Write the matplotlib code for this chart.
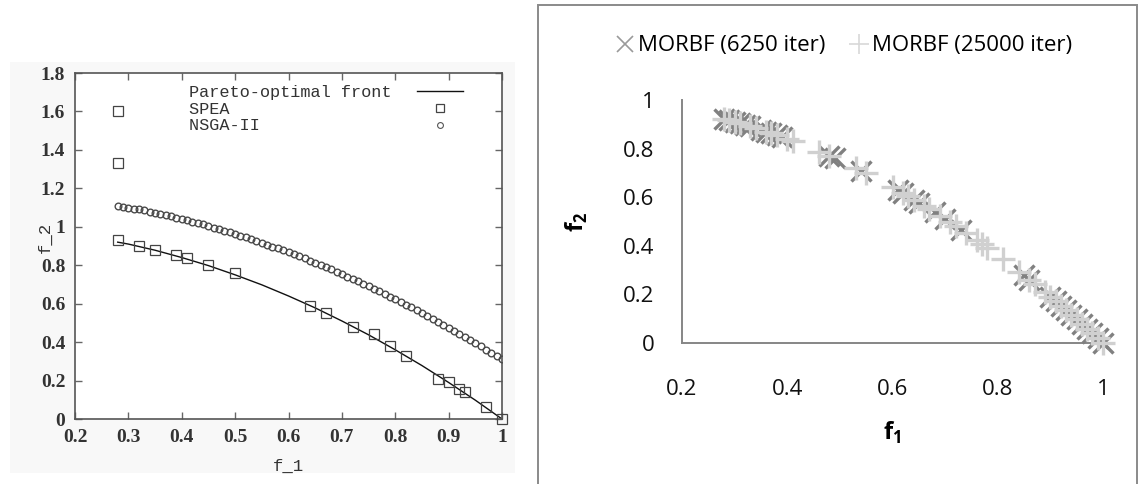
import matplotlib.pyplot as plt
from matplotlib.lines import Line2D
from matplotlib.patches import Rectangle

plt.rcParams['mathtext.fontset'] = 'custom'
plt.rcParams['mathtext.rm'] = 'Open Sans'
plt.rcParams['mathtext.bf'] = 'Open Sans:bold'

# --- left: SPEA / NSGA-II on the ZDT2 front ---
front_f1 = [0.28, 0.30, 0.35, 0.40, 0.45, 0.50, 0.55, 0.60, 0.65, 0.70, 0.75, 0.80, 0.85, 0.90, 0.95, 1.00]
front_f2 = [0.92, 0.91, 0.878, 0.84, 0.798, 0.75, 0.698, 0.64, 0.578, 0.51, 0.438, 0.36, 0.278, 0.19, 0.098, 0.0]

spea_f1 = [0.28, 0.28, 0.28, 0.32, 0.35, 0.39, 0.41, 0.45, 0.50, 0.64, 0.67, 0.72, 0.76, 0.79, 0.82,
           0.88, 0.90, 0.92, 0.93, 0.97, 1.00]
spea_f2 = [1.60, 1.33, 0.93, 0.90, 0.88, 0.855, 0.84, 0.80, 0.76, 0.59, 0.55, 0.48, 0.44, 0.38, 0.33,
           0.21, 0.19, 0.155, 0.14, 0.06, 0.0]

nsga_f1 = [0.28, 0.29, 0.30, 0.31, 0.32, 0.33, 0.34, 0.35, 0.36, 0.37, 0.38, 0.39, 0.40, 0.41, 0.42,
           0.43, 0.44, 0.45, 0.46, 0.47, 0.48, 0.49, 0.50, 0.51, 0.52, 0.53, 0.54, 0.55, 0.56, 0.57,
           0.58, 0.59, 0.60, 0.61, 0.62, 0.63, 0.64, 0.65, 0.66, 0.67, 0.68, 0.69, 0.70, 0.71, 0.72,
           0.73, 0.74, 0.75, 0.76, 0.77, 0.78, 0.79, 0.80, 0.81, 0.82, 0.83, 0.84, 0.85, 0.86, 0.87,
           0.88, 0.89, 0.90, 0.91, 0.92, 0.93, 0.94, 0.95, 0.96, 0.97, 0.98, 0.99, 1.00]
nsga_f2 = [1.11, 1.105, 1.10, 1.095, 1.09, 1.085, 1.079, 1.073, 1.067, 1.061, 1.054, 1.048, 1.041, 1.034, 1.027,
           1.019, 1.012, 1.004, 0.996, 0.988, 0.98, 0.971, 0.963, 0.954, 0.945, 0.936, 0.926, 0.917, 0.907, 0.897,
           0.887, 0.877, 0.867, 0.856, 0.846, 0.835, 0.824, 0.812, 0.801, 0.789, 0.778, 0.766, 0.754, 0.741, 0.729,
           0.716, 0.704, 0.691, 0.677, 0.664, 0.651, 0.637, 0.623, 0.609, 0.595, 0.581, 0.566, 0.551, 0.537, 0.522,
           0.506, 0.491, 0.475, 0.46, 0.444, 0.428, 0.411, 0.395, 0.378, 0.361, 0.345, 0.327, 0.31]

left_xticks = [0.2, 0.3, 0.4, 0.5, 0.6, 0.7, 0.8, 0.9, 1.0]
left_xlabels = ['0.2', '0.3', '0.4', '0.5', '0.6', '0.7', '0.8', '0.9', '1']
left_yticks = [0, 0.2, 0.4, 0.6, 0.8, 1.0, 1.2, 1.4, 1.6, 1.8]
left_ylabels = ['0', '0.2', '0.4', '0.6', '0.8', '1', '1.2', '1.4', '1.6', '1.8']

# --- right: MORBF runs ---
morbf_short_f1 = [0.28, 0.29, 0.30, 0.31, 0.32, 0.33, 0.35, 0.36, 0.37, 0.38, 0.39, 0.48, 0.49, 0.54,
                  0.61, 0.62, 0.64, 0.65, 0.68, 0.70, 0.73, 0.85, 0.86, 0.90, 0.91, 0.92, 0.93, 0.94,
                  0.95, 0.96, 0.97, 0.98, 0.99, 1.00]
morbf_short_f2 = [0.92, 0.916, 0.91, 0.904, 0.898, 0.891, 0.878, 0.87, 0.863, 0.856, 0.848, 0.77, 0.76, 0.708,
                  0.628, 0.616, 0.59, 0.578, 0.538, 0.51, 0.467, 0.278, 0.26, 0.19, 0.172, 0.154, 0.135, 0.116,
                  0.098, 0.078, 0.059, 0.04, 0.02, 0.0]

morbf_long_f1 = [0.28, 0.29, 0.30, 0.31, 0.33, 0.34, 0.36, 0.37, 0.38, 0.40, 0.41, 0.46, 0.48, 0.53, 0.55,
                 0.60, 0.62, 0.63, 0.64, 0.66, 0.67, 0.69, 0.71, 0.72, 0.74, 0.76, 0.77, 0.78, 0.81,
                 0.84, 0.86, 0.87, 0.89, 0.90, 0.91, 0.92, 0.93, 0.94, 0.95, 0.96, 0.97, 0.98, 0.99, 1.00]
morbf_long_f2 = [0.92, 0.916, 0.91, 0.904, 0.891, 0.884, 0.87, 0.863, 0.856, 0.84, 0.832, 0.788, 0.77, 0.719, 0.698,
                 0.64, 0.616, 0.603, 0.59, 0.564, 0.551, 0.524, 0.496, 0.482, 0.452, 0.422, 0.407, 0.392, 0.344,
                 0.294, 0.26, 0.243, 0.208, 0.19, 0.172, 0.154, 0.135, 0.116, 0.098, 0.078, 0.059, 0.04, 0.02, 0.0]

right_ticks = [0.2, 0.4, 0.6, 0.8, 1.0]
right_xlabels = ['0.2', '0.4', '0.6', '0.8', '1']
right_yticks = [0, 0.2, 0.4, 0.6, 0.8, 1.0]
right_ylabels = ['0', '0.2', '0.4', '0.6', '0.8', '1']

W, H = 1141, 484
fig = plt.figure(figsize=(W / 100, H / 100), dpi=100)

# faint scanned page behind the left plot
fig.patches.append(Rectangle((10 / W, 1 - 473 / H), 505 / W, 411 / H, transform=fig.transFigure,
                             facecolor='#f8f8f8', edgecolor='none', zorder=-5))
# border round the right chart
fig.patches.append(Rectangle((538 / W, -0.02), 599 / W, 1.02 - 5 / H, transform=fig.transFigure,
                             facecolor='none', edgecolor='#8a8a8a', lw=1.4, zorder=5))

serif = 'Liberation Serif'
mono = 'Liberation Mono'
ink = '#333333'

ax1 = fig.add_axes([75 / W, 1 - 419 / H, 427 / W, 346 / H])
ax1.set_facecolor('white')
ax1.plot(front_f1, front_f2, color='#111111', lw=1.0, zorder=2)
ax1.plot(spea_f1, spea_f2, ls='none', marker='s', ms=6.5, mfc='none', mec='#444444', mew=0.9,
         zorder=3, clip_on=False)
ax1.plot(nsga_f1, nsga_f2, ls='none', marker='o', ms=4.8, mfc='none', mec='#4a4a4a', mew=1.0, zorder=3)
ax1.set_xlim(0.2, 1.0)
ax1.set_ylim(0, 1.8)
ax1.set_xticks(left_xticks, left_xlabels)
ax1.set_yticks(left_yticks, left_ylabels)
ax1.tick_params(direction='in', length=5, width=1, color='#666666', top=True, right=True,
                labelsize=14, labelcolor=ink, pad=7)
ax1.tick_params(axis='y', pad=7)
for lab in ax1.get_xticklabels() + ax1.get_yticklabels():
    lab.set_family(serif)
    lab.set_fontweight('bold')
for sp in ax1.spines.values():
    sp.set_color('#555555')
    sp.set_linewidth(1.2)
ax1.set_xlabel('f_1', family=mono, fontsize=12.5, color=ink)
ax1.set_ylabel('f_2', family=mono, fontsize=12.5, color=ink)
ax1.xaxis.set_label_coords(0.5, -0.115)
ax1.yaxis.set_label_coords(-0.052, 0.526)

width = 20
handles = [Line2D([], [], color='#111111', lw=1.0),
           Line2D([], [], ls='none', marker='s', ms=6, mfc='none', mec='#444444', mew=0.9),
           Line2D([], [], ls='none', marker='o', ms=4.2, mfc='none', mec='#555555', mew=0.8)]
labels = ['Pareto-optimal front'.ljust(width), 'SPEA'.ljust(width), 'NSGA-II'.ljust(width)]
ax1.legend(handles, labels, loc='upper left', bbox_to_anchor=(0.268, 0.965), frameon=False,
           markerfirst=False, prop={'family': mono, 'size': 12.2}, handlelength=2.7,
           handletextpad=1.5, labelspacing=0.1, borderpad=0, borderaxespad=0, labelcolor=ink)

# --- right chart ---
ax2 = fig.add_axes([682 / W, 1 - 343 / H, 421 / W, 243 / H])
ax2.plot(morbf_short_f1, morbf_short_f2, ls='none', marker='x', ms=15, mew=2.4, color='#808080',
         clip_on=False, label='MORBF (6250 iter)', zorder=3)
ax2.plot(morbf_long_f1, morbf_long_f2, ls='none', marker='+', ms=17, mew=2.4, color='#d0d0d0',
         clip_on=False, label='MORBF (25000 iter)', zorder=4)
ax2.set_xlim(0.2, 1.0)
ax2.set_ylim(0, 1.0)
ax2.set_xticks(right_ticks, right_xlabels)
ax2.set_yticks(right_yticks, right_ylabels)
ax2.tick_params(length=0, labelsize=16, labelcolor='#111111')
ax2.tick_params(axis='x', pad=26)
ax2.tick_params(axis='y', pad=20)
for lab in ax2.get_xticklabels() + ax2.get_yticklabels():
    lab.set_family('Open Sans')
for side in ['top', 'right']:
    ax2.spines[side].set_visible(False)
for side in ['left', 'bottom']:
    ax2.spines[side].set_color('#868686')
    ax2.spines[side].set_linewidth(1.4)
ax2.set_xlabel(r'$\mathbf{f}_\mathbf{1}$', fontsize=17, labelpad=14)
ax2.set_ylabel(r'$\mathbf{f}_\mathbf{2}$', fontsize=17, labelpad=24)

leg_handles = [Line2D([], [], ls='none', marker='x', ms=12, mew=1.2, color='#9a9a9a'),
               Line2D([], [], ls='none', marker='+', ms=14, mew=1.2, color='#d8d8d8')]
fig.legend(leg_handles, ['MORBF (6250 iter)', 'MORBF (25000 iter)'], loc='center',
           bbox_to_anchor=(843 / W, 1 - 46 / H), ncol=2, frameon=False,
           prop={'family': 'Open Sans', 'size': 16}, handlelength=1.0, handletextpad=0.1,
           columnspacing=1.0)

fig.savefig('out.png', dpi=100)
